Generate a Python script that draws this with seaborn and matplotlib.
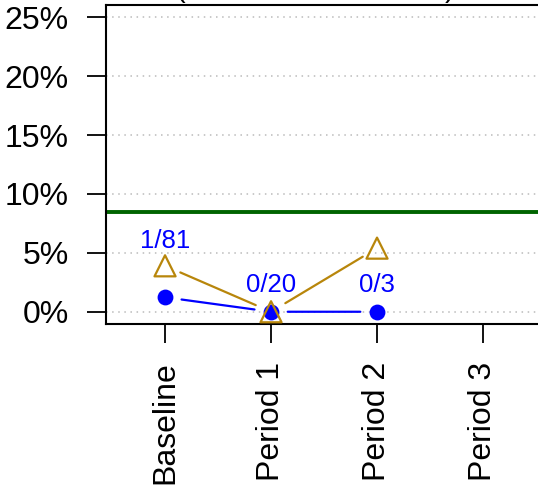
import numpy as np
import pandas as pd
import seaborn as sns
import matplotlib
matplotlib.use('Agg')
import matplotlib.pyplot as plt

# data
periods = ["Baseline", "Period 1", "Period 2", "Period 3"]
blue_rate = [1.23, 0.0, 0.0]          # percent, 1/81, 0/20, 0/3
gold_rate = [3.9, 0.0, 5.4]           # percent
count_labels = ["1/81", "0/20", "0/3"]
label_y = [6.0, 2.3, 2.3]
target_rate = 8.5
y_ticks = [0, 5, 10, 15, 20, 25]

sns.set_style("white")
plt.rcParams['font.family'] = ['Liberation Sans', 'DejaVu Sans']
plt.rcParams['text.color'] = 'black'
plt.rcParams['xtick.color'] = 'black'
plt.rcParams['ytick.color'] = 'black'

fig = plt.figure(figsize=(5.38, 4.87), dpi=100)
# plot box runs past the right edge of the figure (cropped in the reference)
ax = fig.add_axes([106 / 538, 1 - 324 / 487, 483 / 538, 319 / 487])

xpos = np.arange(1, len(blue_rate) + 1)
df = pd.DataFrame({"x": xpos, "blue": blue_rate, "gold": gold_rate})

ax.set_xlim(0.443, 5.0)
ax.set_ylim(-1.04, 26.04)

for yv in y_ticks:
    ax.axhline(yv, color="#bbbbbb", linestyle=(0, (1, 3)), linewidth=1.1, zorder=0)

ax.axhline(target_rate, color="#006400", linewidth=2.8, zorder=1)

# R type="b" lines: segments with gaps near points
for col, c in [("blue", "blue"), ("gold", "#B8860B")]:
    vals = df[col].tolist()
    for i in range(len(vals) - 1):
        ax.annotate("", xy=(xpos[i + 1], vals[i + 1]), xytext=(xpos[i], vals[i]),
                    arrowprops=dict(arrowstyle="-", color=c, lw=1.6,
                                    shrinkA=12, shrinkB=12), zorder=2)

sns.scatterplot(data=df, x="x", y="blue", ax=ax, color="blue", s=130,
                linewidth=0, zorder=3, legend=False)
sns.scatterplot(data=df, x="x", y="gold", ax=ax, marker="^", s=230,
                facecolor="none", edgecolor="#B8860B", linewidth=1.6,
                zorder=4, legend=False)

for xi, yi, t in zip(xpos, label_y, count_labels):
    ax.text(xi, yi, t, color="blue", fontsize=18.5, ha="center", va="center")

ax.set_xticks(np.arange(1, len(periods) + 1))
ax.set_xticklabels(periods, rotation=90, fontsize=23)
ax.set_yticks(y_ticks)
ax.set_yticklabels([f"{v}%" for v in y_ticks], fontsize=23)
ax.tick_params(axis="both", direction="out", length=14, width=1.3, pad=13,
               bottom=True, left=True)
ax.set_xlabel("")
ax.set_ylabel("")
for s in ax.spines.values():
    s.set_color("black")
    s.set_linewidth(1.5)

# cropped title, only the bottoms of its brackets show
fig.text(180 / 538, 1.007, "(", fontsize=21, ha="center", va="baseline")
fig.text(450 / 538, 1.007, ")", fontsize=21, ha="center", va="baseline")

fig.savefig("out.png", dpi=100)
